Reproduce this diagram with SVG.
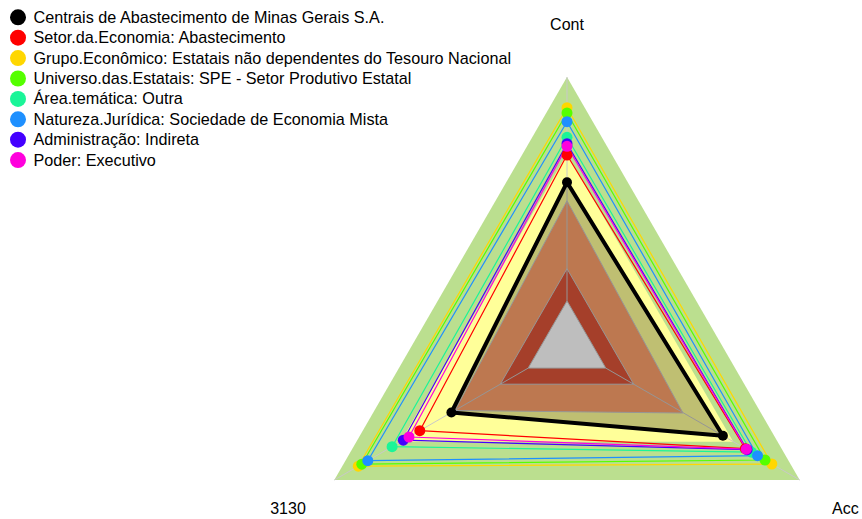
<svg xmlns="http://www.w3.org/2000/svg" width="862" height="519" viewBox="0 0 862 519">
<style>
text{font-family:"Liberation Sans",Arial,sans-serif;fill:#000}
.lg{font-size:16.2px}
.ax{font-size:16px}
.grid{stroke:#c8c8c8;stroke-width:1}
.ser{fill:none;stroke-width:1.2;stroke-linejoin:round}
</style>
<rect width="862" height="519" fill="#fff"/>
<g id="background">
<polygon points="567,77 334.3,480 799.7,480" fill="#bbdf8f"/>
<polygon points="567,153.7 400.7,441.7 733.3,441.7" fill="#ffff99"/>
<polygon points="567,200.7 455,410.5 683,413" fill="#fda06b" class="grid"/>
<polygon points="567,268.7 500.3,384.2 633.7,384.2" fill="#dc5538" class="grid"/>
<polygon points="567,300.9 528.2,368.1 605.8,368.1" fill="#fefefe" class="grid"/>
</g>
<g id="axes" class="grid">
<line x1="567" y1="300.9" x2="567" y2="77"/>
<line x1="528.2" y1="368.1" x2="334.3" y2="480"/>
<line x1="605.8" y1="368.1" x2="799.7" y2="480"/>
</g>
<g id="connectors">
<polygon id="s-black" points="567,182.3 451.4,412.5 722.9,435.7" fill="#000" fill-opacity="0.25" stroke="#000" stroke-width="4" stroke-linejoin="round"/>
<polygon class="ser" stroke="#ff0000" points="567,155 419.8,430.7 745.4,448.7"/>
<polygon class="ser" stroke="#ffd700" points="567,107.7 358.3,466.2 771.8,464"/>
<polygon class="ser" stroke="#55ff00" points="567,113 361.8,464.2 765,460"/>
<polygon class="ser" stroke="#1af598" points="567,137.3 392.1,446.7 751.5,452.2"/>
<polygon class="ser" stroke="#1e90ff" points="567,121.7 367.8,460.7 757.5,455.7"/>
<polygon class="ser" stroke="#4400ff" points="567,143.7 403.3,440.2 747.1,449.7"/>
<polygon class="ser" stroke="#ff00dd" points="567,146.3 409,437 746.3,449.2"/>
</g>
<g id="node-black" fill="#000"><circle cx="567" cy="182.3" r="5"/><circle cx="451.4" cy="412.5" r="5"/><circle cx="722.9" cy="435.7" r="5"/></g>
<g id="node-red" fill="#ff0000"><circle cx="567" cy="155" r="5.5"/><circle cx="419.8" cy="430.7" r="5.5"/><circle cx="745.4" cy="448.7" r="5.5"/></g>
<g id="node-yellow" fill="#ffd700"><circle cx="567" cy="107.7" r="5.5"/><circle cx="358.3" cy="466.2" r="5.5"/><circle cx="771.8" cy="464" r="5.5"/></g>
<g id="node-green" fill="#55ff00"><circle cx="567" cy="113" r="5.5"/><circle cx="361.8" cy="464.2" r="5.5"/><circle cx="765" cy="460" r="5.5"/></g>
<g id="node-teal" fill="#1af598"><circle cx="567" cy="137.3" r="5.5"/><circle cx="392.1" cy="446.7" r="5.5"/><circle cx="751.5" cy="452.2" r="5.5"/></g>
<g id="node-blue" fill="#1e90ff"><circle cx="567" cy="121.7" r="5.5"/><circle cx="367.8" cy="460.7" r="5.5"/><circle cx="757.5" cy="455.7" r="5.5"/></g>
<g id="node-purple" fill="#4400ff"><circle cx="567" cy="143.7" r="5.5"/><circle cx="403.3" cy="440.2" r="5.5"/><circle cx="747.1" cy="449.7" r="5.5"/></g>
<g id="node-magenta" fill="#ff00dd"><circle cx="567" cy="146.3" r="5.5"/><circle cx="409" cy="437" r="5.5"/><circle cx="746.3" cy="449.2" r="5.5"/></g>
<g id="labels" class="ax">
<text x="567" y="30" text-anchor="middle">Cont</text>
<text x="288" y="514" text-anchor="middle">3130</text>
<text x="832" y="514">Acc</text>
</g>
<g id="legend" class="lg">
<circle cx="18" cy="17.3" r="8" fill="#000"/><text x="33.5" y="22.8">Centrais de Abastecimento de Minas Gerais S.A.</text>
<circle cx="18" cy="37.7" r="8" fill="#ff0000"/><text x="33.5" y="43.2">Setor.da.Economia: Abastecimento</text>
<circle cx="18" cy="58.1" r="8" fill="#ffd700"/><text x="33.5" y="63.6">Grupo.Econômico: Estatais não dependentes do Tesouro Nacional</text>
<circle cx="18" cy="78.5" r="8" fill="#55ff00"/><text x="33.5" y="84">Universo.das.Estatais: SPE - Setor Produtivo Estatal</text>
<circle cx="18" cy="98.9" r="8" fill="#1af598"/><text x="33.5" y="104.4">Área.temática: Outra</text>
<circle cx="18" cy="119.3" r="8" fill="#1e90ff"/><text x="33.5" y="124.8">Natureza.Jurídica: Sociedade de Economia Mista</text>
<circle cx="18" cy="139.7" r="8" fill="#4400ff"/><text x="33.5" y="145.2">Administração: Indireta</text>
<circle cx="18" cy="160.1" r="8" fill="#ff00dd"/><text x="33.5" y="165.6">Poder: Executivo</text>
</g>
</svg>
